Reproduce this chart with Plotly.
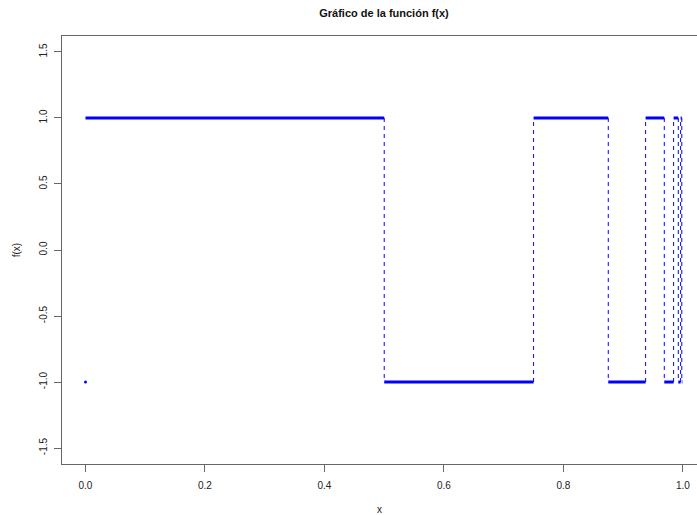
import plotly.graph_objects as go

# Piecewise-constant function f(x): segment starts, ends and values
seg_start = [0.0, 0.5, 0.75, 0.875, 0.9375, 0.96875, 0.984375, 0.9921875, 0.99609375, 0.998046875]
seg_end = [0.5, 0.75, 0.875, 0.9375, 0.96875, 0.984375, 0.9921875, 0.99609375, 0.998046875, 0.9990234375]
seg_value = [1, -1, 1, -1, 1, -1, 1, -1, 1, -1]

# isolated point
point_x = [0.0]
point_y = [-1]

x_ticks = [0.0, 0.2, 0.4, 0.6, 0.8, 1.0]
x_ticklabels = ["0.0", "0.2", "0.4", "0.6", "0.8", "1.0"]
y_ticks = [-1.5, -1.0, -0.5, 0.0, 0.5, 1.0, 1.5]
y_ticklabels = ["-1.5", "-1.0", "-0.5", "0.0", "0.5", "1.0", "1.5"]

BLUE = "#0000FF"
FONT = "Liberation Sans, Arial, sans-serif"

# horizontal segments
hx, hy = [], []
for a, b, v in zip(seg_start, seg_end, seg_value):
    hx += [a, b, None]
    hy += [v, v, None]

# vertical dashed jumps
vx, vy = [], []
for i in range(len(seg_end) - 1):
    vx += [seg_end[i], seg_end[i], None]
    vy += [seg_value[i], seg_value[i + 1], None]

fig = go.Figure()
fig.add_trace(go.Scatter(x=vx, y=vy, mode="lines",
                         line=dict(color=BLUE, width=1, dash="4px,4px"),
                         hoverinfo="skip", showlegend=False))
fig.add_trace(go.Scatter(x=hx, y=hy, mode="lines",
                         line=dict(color=BLUE, width=3),
                         showlegend=False))
fig.add_trace(go.Scatter(x=point_x, y=point_y, mode="markers",
                         marker=dict(color=BLUE, size=3),
                         showlegend=False))

fig.update_layout(
    width=697, height=515,
    margin=dict(l=62, r=0, t=36, b=51, pad=0, autoexpand=False),
    paper_bgcolor="white", plot_bgcolor="white",
    font=dict(family=FONT, size=10, color="#222"),
    title=dict(text="<b>Gráfico de la función f(x)</b>",
               x=384 / 697, xanchor="center", xref="container",
               y=1 - 13 / 515, yanchor="middle", yref="container",
               font=dict(family=FONT, size=11, color="#111")),
    xaxis=dict(range=[-0.0393, 1.0235], tickvals=x_ticks, ticktext=x_ticklabels,
               showgrid=False, zeroline=False, showline=True, linecolor="#666",
               linewidth=1, mirror=True, ticks="outside", ticklen=7, tickcolor="#666",
               ticklabelstandoff=5, automargin=False,
               title=dict(text="x", standoff=17, font=dict(size=10))),
    yaxis=dict(range=[-1.621, 1.621], tickvals=y_ticks, ticktext=y_ticklabels,
               showgrid=False, zeroline=False, showline=True, linecolor="#666",
               linewidth=1, mirror=False, ticks="outside", ticklen=7, tickcolor="#666",
               tickangle=-90, ticklabelstandoff=3, automargin=False,
               title=dict(text="f(x)", standoff=15, font=dict(size=10))),
)

fig.write_html(
    "out.html",
    config={"displayModeBar": False},
    post_script="document.body.style.margin='0';document.body.style.overflow='hidden';",
)
